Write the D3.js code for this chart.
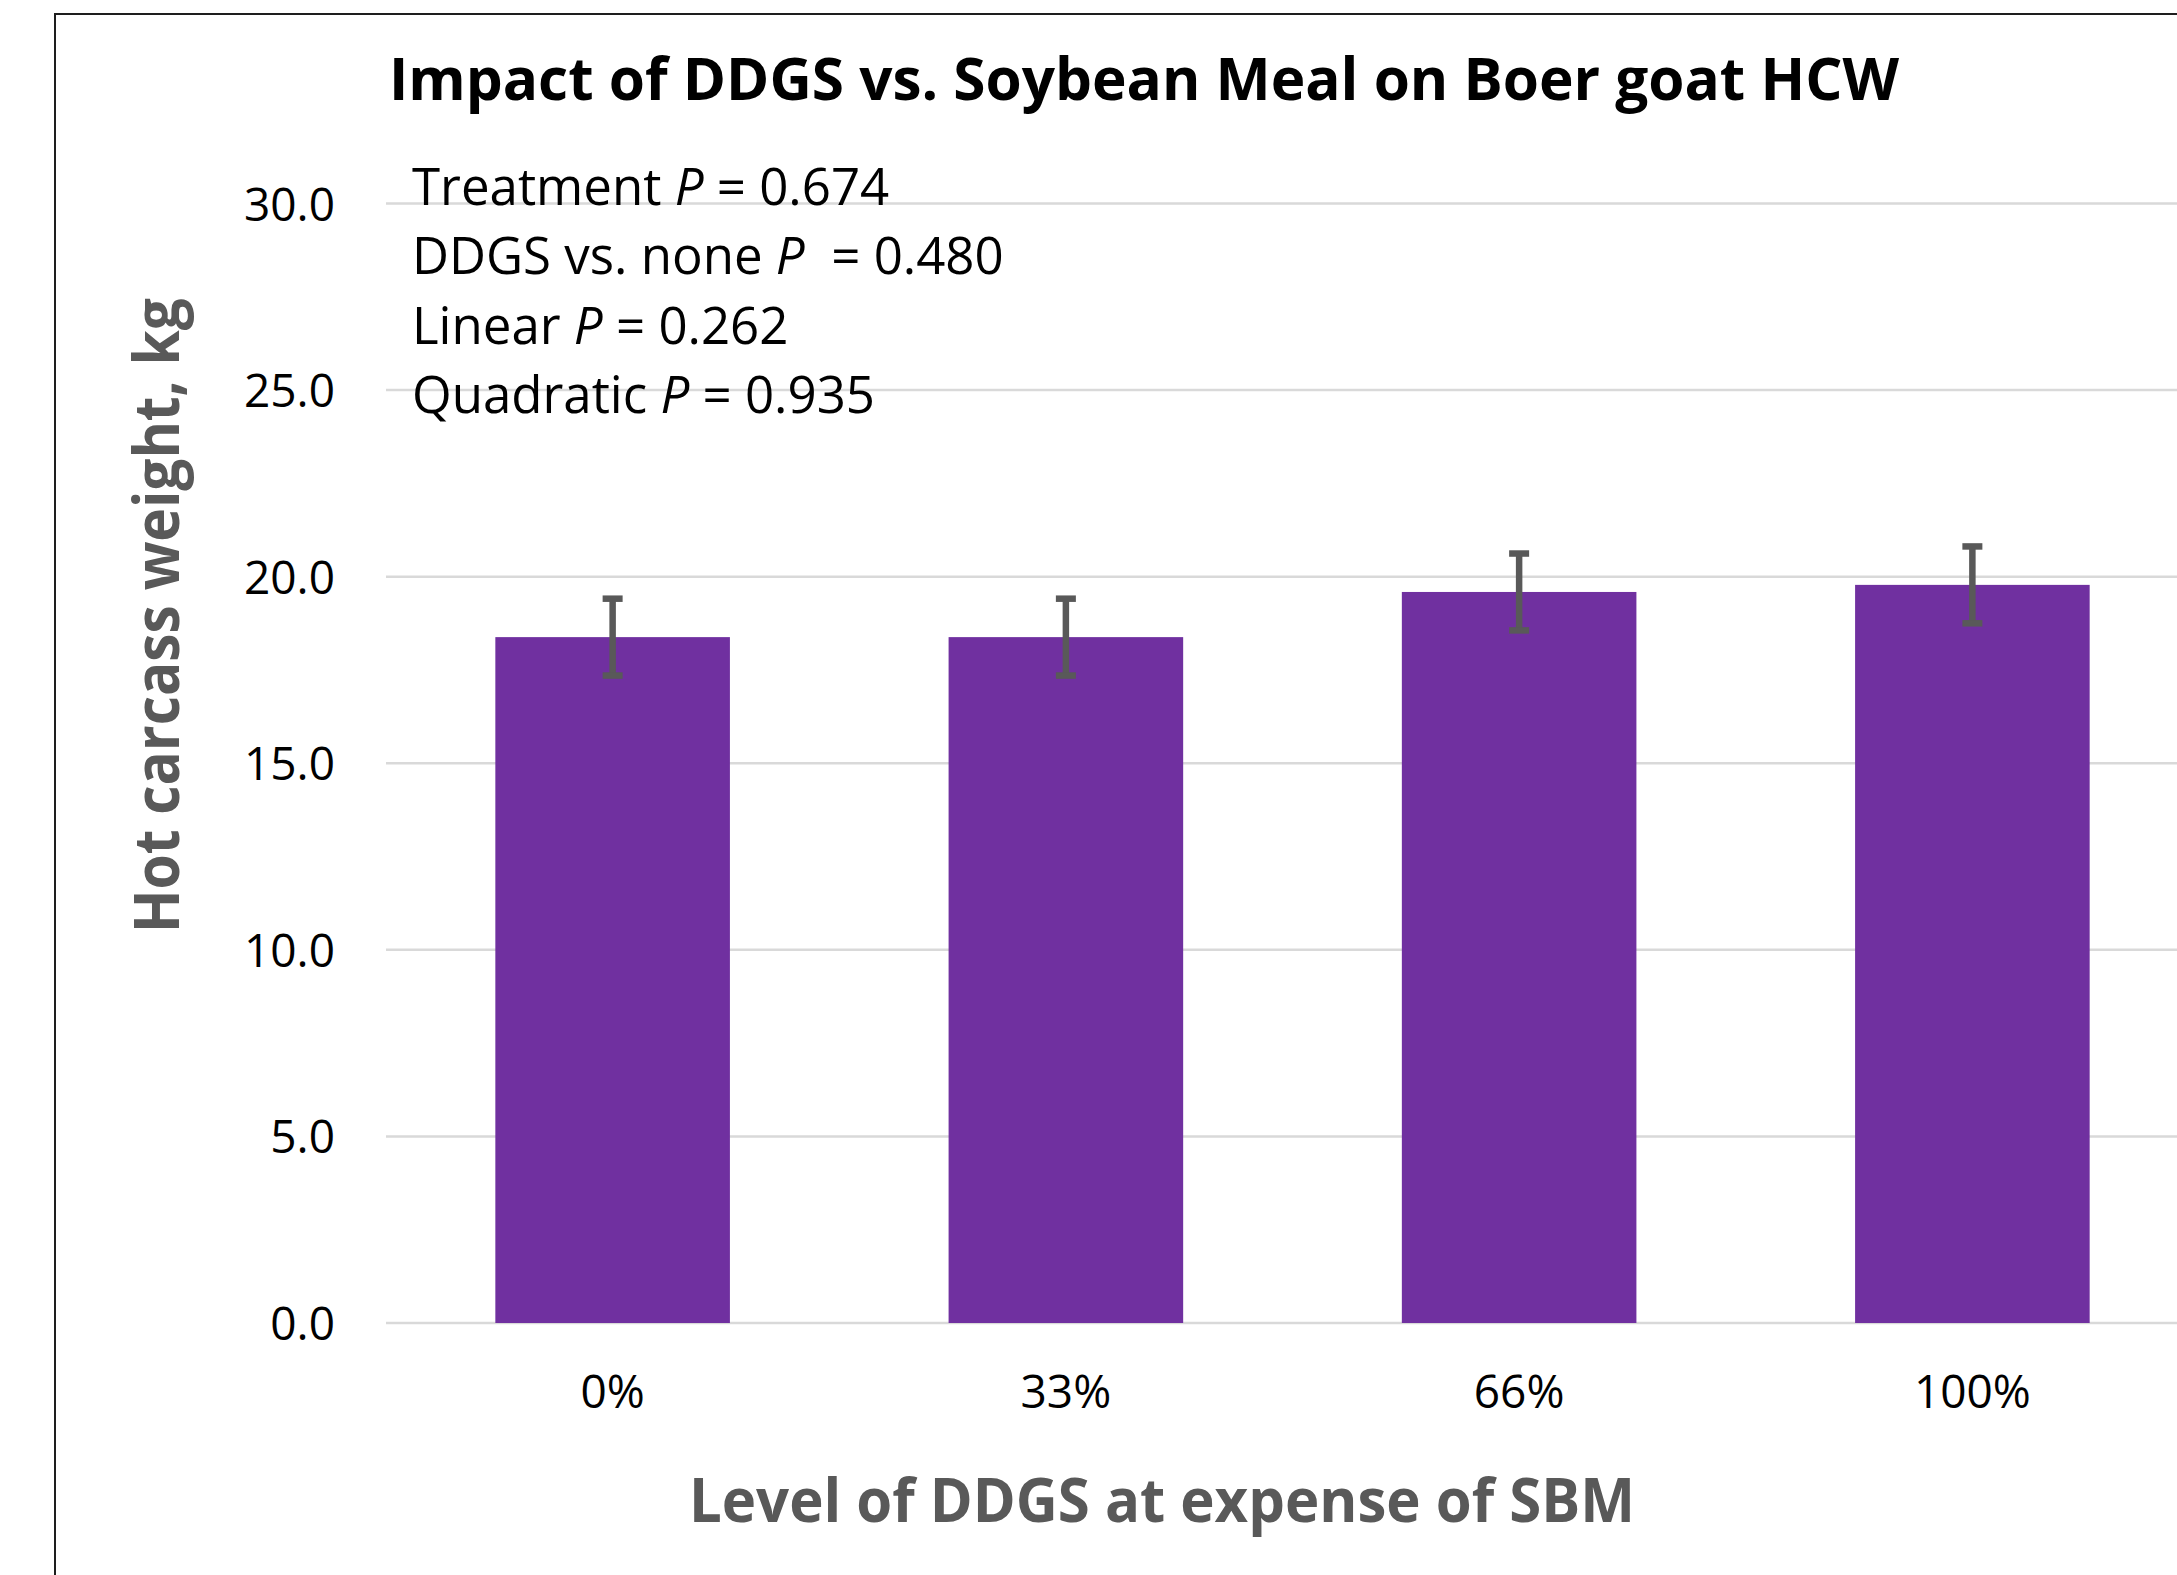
<!DOCTYPE html>
<html>
  <head>
    <meta charset="utf-8">
    <title>Impact of DDGS vs. Soybean Meal on Boer goat HCW</title>
    <script src="https://cdn.jsdelivr.net/npm/d3@7"></script>
    <style>
      body { margin: 0; background: #fff; }
      svg { display: block; font-family: "Open Sans", "Noto Sans", sans-serif; }
      .grid line { stroke: #d9d9d9; stroke-width: 2.5; }
      .tick text { fill: #000; }
      .stats text { white-space: pre; }
    </style>
  </head>
  <body>
    <svg id="chart"></svg>

    <script>
// chart data
var levels = ["0%", "33%", "66%", "100%"];
var hcw = [18.38, 18.38, 19.59, 19.78];
var hcwSE = [1.03, 1.03, 1.03, 1.03];
var yTicks = [0, 5, 10, 15, 20, 25, 30];

// p-value notes in the top left corner
var statNames = ["Treatment", "DDGS vs. none", "Linear", "Quadratic"];
var statGaps = [" ", "  ", " ", " "];
var statValues = ["0.674", "0.480", "0.262", "0.935"];

var W = 2177, H = 1575;
var plot = { left: 386, right: 2199, top: 203.5, bottom: 1323 };

var svg = d3.select("#chart")
    .attr("width", W)
    .attr("height", H);

svg.append("rect")
    .attr("width", W)
    .attr("height", H)
    .attr("fill", "#fff");

// outer chart border (only top and left visible, rest is cropped)
svg.append("path")
    .attr("d", "M55," + (H + 10) + "V14H" + (W + 10))
    .attr("fill", "none")
    .attr("stroke", "#1e1e1e")
    .attr("stroke-width", 2);

var pad = 1 - 234.6 / 453.3;
var x = d3.scaleBand()
    .domain(levels)
    .range([plot.left, plot.right])
    .paddingInner(pad)
    .paddingOuter(pad / 2);

var y = d3.scaleLinear()
    .domain([0, 30])
    .range([plot.bottom, plot.top]);

// gridlines
svg.append("g")
    .attr("class", "grid")
  .selectAll("line")
    .data(yTicks)
  .enter().append("line")
    .attr("x1", plot.left)
    .attr("x2", W + 10)
    .attr("y1", function(d) { return y(d); })
    .attr("y2", function(d) { return y(d); });

// y axis labels
var yAxis = svg.append("g")
    .attr("transform", "translate(335,0)")
    .call(d3.axisLeft(y).tickValues(yTicks).tickFormat(d3.format(".1f")).tickSize(0).tickPadding(0))
    .attr("font-family", null)
    .attr("font-size", 46);
yAxis.select(".domain").remove();
yAxis.selectAll("text")
    .attr("dy", "0.36em");

// x axis labels
var xAxis = svg.append("g")
    .attr("transform", "translate(0," + plot.bottom + ")")
    .call(d3.axisBottom(x).tickSize(0).tickPadding(0))
    .attr("font-family", null)
    .attr("font-size", 46);
xAxis.select(".domain").remove();
xAxis.selectAll("text")
    .attr("dy", null)
    .attr("y", 85);

// bars
svg.append("g")
  .selectAll("rect")
    .data(levels)
  .enter().append("rect")
    .attr("x", function(d) { return x(d); })
    .attr("width", x.bandwidth())
    .attr("y", function(d, i) { return y(hcw[i]); })
    .attr("height", function(d, i) { return y(0) - y(hcw[i]); })
    .attr("fill", "#7030a0");

// error bars
var err = svg.append("g")
    .attr("stroke", "#595959")
    .attr("stroke-width", 6.5)
  .selectAll("g")
    .data(levels)
  .enter().append("g")
    .attr("transform", function(d) { return "translate(" + (x(d) + x.bandwidth() / 2) + ",0)"; });

err.append("line")
    .attr("y1", function(d, i) { return y(hcw[i] + hcwSE[i]); })
    .attr("y2", function(d, i) { return y(hcw[i] - hcwSE[i]); });

err.append("line")
    .attr("x1", -10).attr("x2", 10)
    .attr("y1", function(d, i) { return y(hcw[i] + hcwSE[i]); })
    .attr("y2", function(d, i) { return y(hcw[i] + hcwSE[i]); });

err.append("line")
    .attr("x1", -10).attr("x2", 10)
    .attr("y1", function(d, i) { return y(hcw[i] - hcwSE[i]); })
    .attr("y2", function(d, i) { return y(hcw[i] - hcwSE[i]); });

// title
svg.append("text")
    .attr("x", 389)
    .attr("y", 100)
    .attr("font-size", 58.5)
    .attr("font-weight", "bold")
    .attr("fill", "#000")
    .attr("textLength", 1510)
    .attr("lengthAdjust", "spacingAndGlyphs")
    .text("Impact of DDGS vs. Soybean Meal on Boer goat HCW");

// p-value notes
var stat = svg.append("g")
    .attr("class", "stats")
  .selectAll("text")
    .data(statNames)
  .enter().append("text")
    .attr("x", 412)
    .attr("y", function(d, i) { return 205 + i * 69.4; })
    .attr("font-size", 51)
    .attr("fill", "#000");

stat.append("tspan").text(function(d) { return d + " "; });
stat.append("tspan").attr("font-style", "italic").text("P");
stat.append("tspan").text(function(d, i) { return statGaps[i] + "= " + statValues[i]; });

// axis titles
svg.append("text")
    .attr("transform", "translate(179,615.5)rotate(-90)")
    .attr("text-anchor", "middle")
    .attr("font-size", 62)
    .attr("font-weight", "bold")
    .attr("fill", "#595959")
    .attr("textLength", 635)
    .attr("lengthAdjust", "spacingAndGlyphs")
    .text("Hot carcass weight, kg");

svg.append("text")
    .attr("x", 1162)
    .attr("y", 1522)
    .attr("text-anchor", "middle")
    .attr("font-size", 61)
    .attr("font-weight", "bold")
    .attr("fill", "#595959")
    .attr("textLength", 946)
    .attr("lengthAdjust", "spacingAndGlyphs")
    .text("Level of DDGS at expense of SBM");
    </script>
  </body>
</html>
